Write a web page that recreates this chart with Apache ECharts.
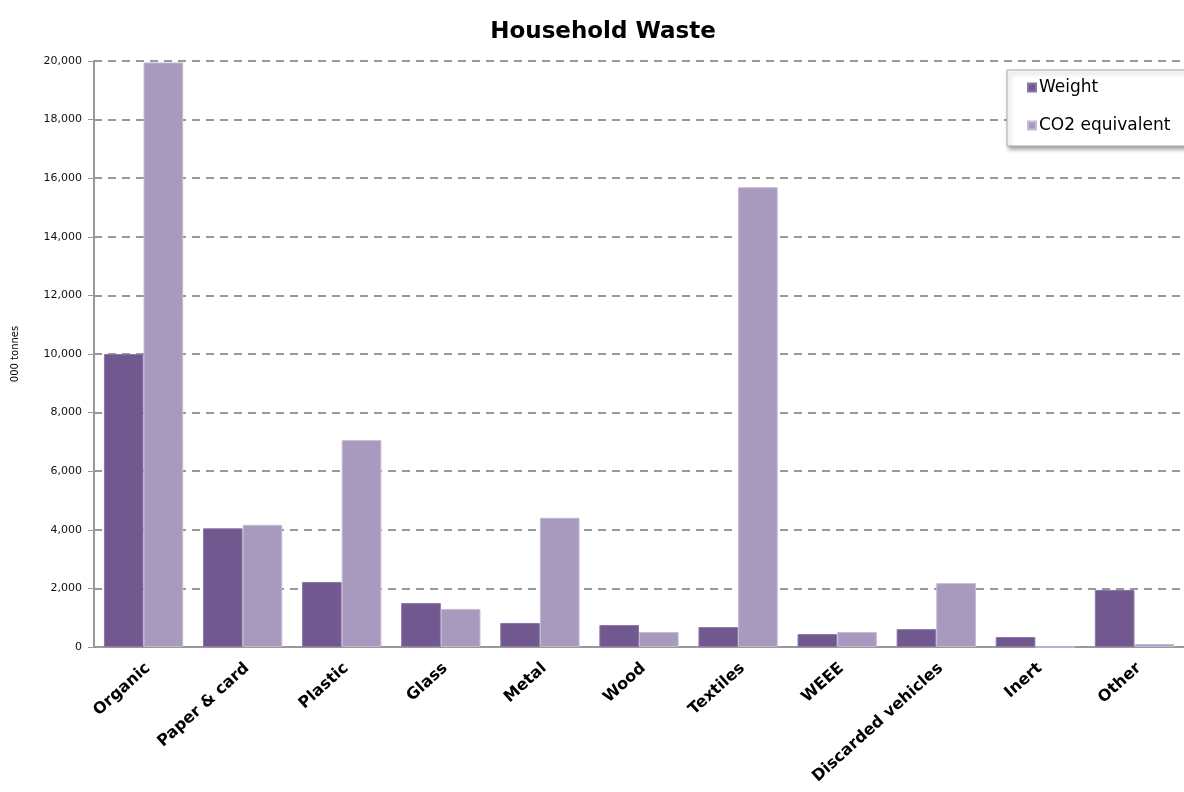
<!DOCTYPE html>
<html>
<head>
<meta charset="utf-8">
<script src="https://cdn.jsdelivr.net/npm/echarts@6/dist/echarts.min.js"></script>
<style>html,body{margin:0;padding:0;background:#fff}#c{width:1184px;height:792px}</style>
</head>
<body>
<div id="c"></div>
<script>
const categories = ['Organic','Paper & card','Plastic','Glass','Metal','Wood','Textiles','WEEE','Discarded vehicles','Inert','Other'];
const weight = [10000, 4050, 2220, 1500, 820, 750, 680, 440, 610, 340, 1950];
const co2 = [19950, 4170, 7060, 1300, 4410, 510, 15690, 510, 2180, 0, 100];
const seriesNames = ['Weight', 'CO2 equivalent'];
const yTicks = { min: 0, max: 20000, interval: 2000 };

const chart = echarts.init(document.getElementById('c'));
chart.setOption({
  animation: false,
  backgroundColor: '#ffffff',
  title: {
    text: 'Household Waste', left: 598, top: 16, textAlign: 'center',
    textStyle: { fontFamily: 'DejaVu Sans', fontWeight: 'bold', fontSize: 23, color: '#000' }
  },
  legend: {
    orient: 'vertical', left: 1007, top: 70,
    data: seriesNames,
    icon: 'rect', itemWidth: 8, itemHeight: 8, itemGap: 21,
    padding: [9, 40, 12, 20],
    backgroundColor: '#fff', borderColor: '#aaa', borderWidth: 1,
    shadowColor: 'rgba(0,0,0,0.35)', shadowBlur: 4, shadowOffsetX: 2, shadowOffsetY: 3,
    textStyle: { fontFamily: 'DejaVu Sans', fontSize: 17, color: '#000', padding: [0, 0, 0, -2] }
  },
  grid: { left: 94, right: -10, top: 61, bottom: 145, containLabel: false },
  xAxis: {
    type: 'category', data: categories,
    axisLine: { lineStyle: { color: '#999', width: 2 } },
    axisTick: { show: false },
    axisLabel: {
      rotate: 42, interval: 0, margin: 23, padding: [0, -6, 0, 0],
      fontFamily: 'DejaVu Sans', fontWeight: 'bold', fontSize: 16, color: '#000'
    }
  },
  yAxis: {
    type: 'value', min: yTicks.min, max: yTicks.max, interval: yTicks.interval,
    name: '000 tonnes', nameLocation: 'middle', nameGap: 74, nameRotate: 90,
    nameTextStyle: { fontFamily: 'DejaVu Sans', fontSize: 10, color: '#000' },
    axisLine: { show: true, lineStyle: { color: '#999', width: 2 } },
    axisTick: { show: true, length: 6, lineStyle: { color: '#999' } },
    axisLabel: {
      margin: 12, fontFamily: 'DejaVu Sans', fontSize: 11, color: '#111',
      formatter: v => v.toLocaleString('en-US')
    },
    splitLine: { lineStyle: { color: '#999', type: [8, 6], width: 2 } }
  },
  series: [
    { name: seriesNames[0], type: 'bar', data: weight, barGap: '0%', barCategoryGap: '20%',
      itemStyle: { color: '#71588f', borderColor: '#8a77a5', borderWidth: 1 } },
    { name: seriesNames[1], type: 'bar', data: co2,
      itemStyle: { color: '#a899bf', borderColor: '#c4b9d4', borderWidth: 1 } }
  ]
});
</script>
</body>
</html>
